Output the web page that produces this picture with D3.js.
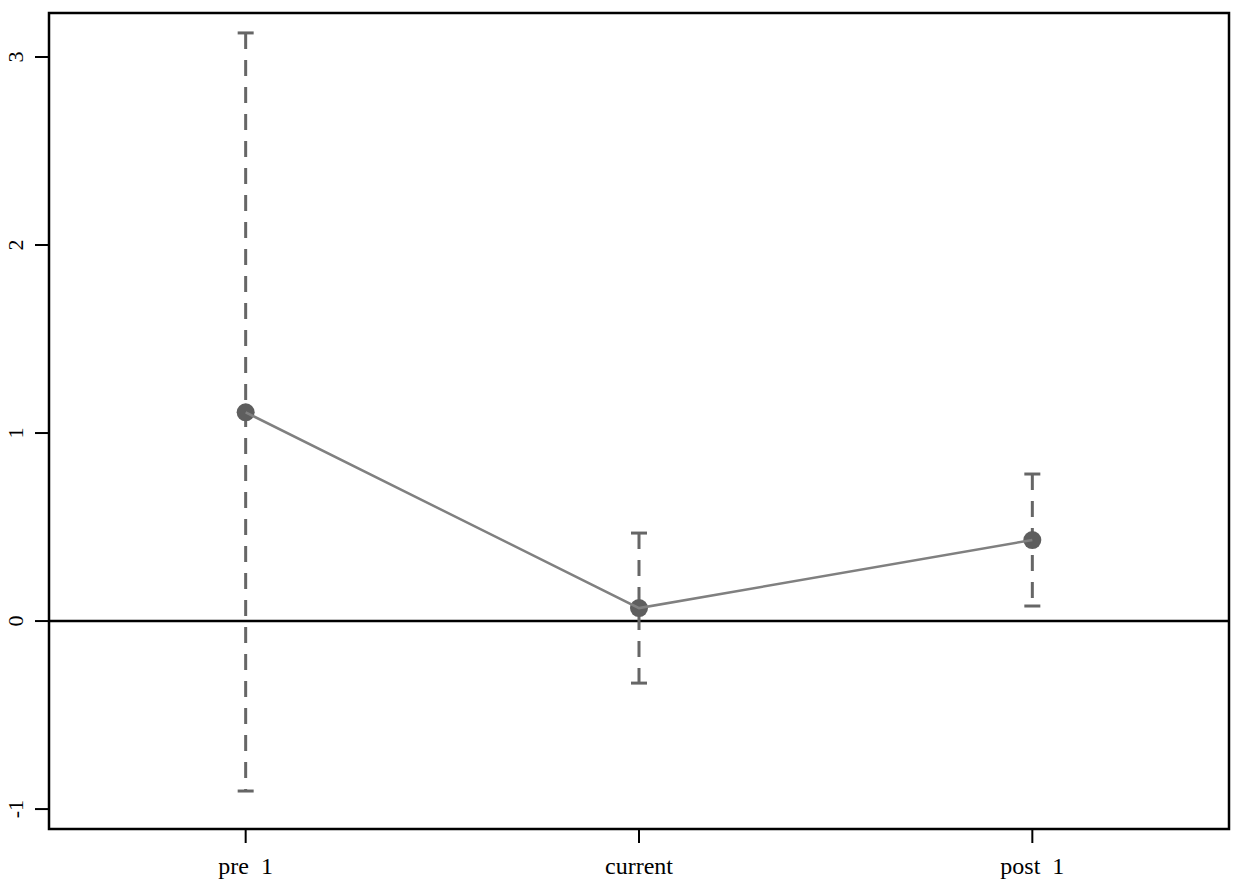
<!DOCTYPE html>
<html>
<head>
<meta charset="utf-8">
<script src="https://cdn.jsdelivr.net/npm/d3@7"></script>
<style>
  body { margin: 0; background: #fff; }
  text { font-family: "Liberation Serif", "Times New Roman", serif; }
</style>
</head>
<body>
<script>
var w = 1240,
    h = 879;

var categories = ["pre  1", "current", "post  1"];
var estimates = [1.11, 0.069, 0.431];
var lower = [-0.904, -0.33, 0.08];
var upper = [3.128, 0.468, 0.782];
var yTicks = [-1, 0, 1, 2, 3];

var plotL = 49, plotR = 1229, plotT = 13, plotB = 829;

var x = d3.scaleLinear().domain([0.5, 3.5]).range([plotL, plotR]);
var y = d3.scaleLinear().domain([-1.106, 3.234]).range([plotB, plotT]);

var svg = d3.select("body").append("svg").attr("width", w).attr("height", h);

// zero reference line
svg.append("line")
  .attr("x1", plotL).attr("x2", plotR)
  .attr("y1", y(0)).attr("y2", y(0))
  .attr("stroke", "#000").attr("stroke-width", 2.5);

var pts = categories.map(function(c, i) {
  return {cat: c, pos: i + 1, est: estimates[i], lo: lower[i], hi: upper[i]};
});

// confidence intervals
var ci = svg.append("g");
ci.selectAll("line.bar")
  .data(pts).enter().append("line")
  .attr("class", "bar")
  .attr("x1", function(d) { return x(d.pos); })
  .attr("x2", function(d) { return x(d.pos); })
  .attr("y1", function(d) { return y(d.hi); })
  .attr("y2", function(d) { return y(d.lo); })
  .attr("stroke", "#666").attr("stroke-width", 3)
  .attr("stroke-dasharray", "16,11");

["hi", "lo"].forEach(function(k) {
  ci.selectAll("line.cap" + k)
    .data(pts).enter().append("line")
    .attr("class", "cap" + k)
    .attr("x1", function(d) { return x(d.pos) - 8; })
    .attr("x2", function(d) { return x(d.pos) + 8; })
    .attr("y1", function(d) { return y(d[k]); })
    .attr("y2", function(d) { return y(d[k]); })
    .attr("stroke", "#666").attr("stroke-width", 3);
});

// points
svg.selectAll("circle")
  .data(pts).enter().append("circle")
  .attr("cx", function(d) { return x(d.pos); })
  .attr("cy", function(d) { return y(d.est); })
  .attr("r", 9)
  .attr("fill", "#5e5e5e");

// connecting line
var lineFn = d3.line()
  .x(function(d) { return x(d.pos); })
  .y(function(d) { return y(d.est); });

svg.append("path")
  .attr("d", lineFn(pts))
  .attr("fill", "none")
  .attr("stroke", "#808080")
  .attr("stroke-width", 2.5);

// frame
svg.append("rect")
  .attr("x", plotL).attr("y", plotT)
  .attr("width", plotR - plotL).attr("height", plotB - plotT)
  .attr("fill", "none").attr("stroke", "#000").attr("stroke-width", 2.5);

// y axis ticks
svg.selectAll("line.ytick")
  .data(yTicks).enter().append("line")
  .attr("class", "ytick")
  .attr("x1", plotL - 14).attr("x2", plotL)
  .attr("y1", function(d) { return y(d); })
  .attr("y2", function(d) { return y(d); })
  .attr("stroke", "#000").attr("stroke-width", 2);

svg.selectAll("text.ylab")
  .data(yTicks).enter().append("text")
  .attr("class", "ylab")
  .attr("transform", function(d) { return "translate(23," + y(d) + ") rotate(-90)"; })
  .attr("text-anchor", "middle")
  .attr("font-size", 22)
  .attr("fill", "#000")
  .text(function(d) { return d; });

// x axis ticks
svg.selectAll("line.xtick")
  .data(pts).enter().append("line")
  .attr("class", "xtick")
  .attr("x1", function(d) { return x(d.pos); })
  .attr("x2", function(d) { return x(d.pos); })
  .attr("y1", plotB).attr("y2", plotB + 14)
  .attr("stroke", "#000").attr("stroke-width", 2);

svg.selectAll("text.xlab")
  .data(pts).enter().append("text")
  .attr("class", "xlab")
  .attr("x", function(d) { return x(d.pos); })
  .attr("y", 874)
  .attr("text-anchor", "middle")
  .attr("font-size", 24)
  .attr("fill", "#000")
  .style("white-space", "pre")
  .text(function(d) { return d.cat; });
</script>
</body>
</html>
